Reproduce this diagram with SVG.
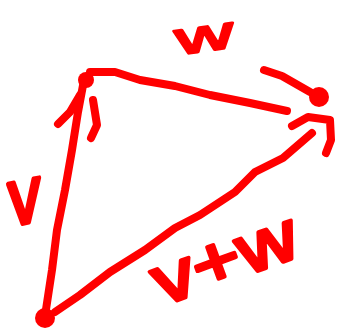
<svg xmlns="http://www.w3.org/2000/svg" width="355" height="333" viewBox="0 0 355 333">
<style>
.ln{fill:none;stroke:#ff0000;stroke-width:8;stroke-linecap:round;stroke-linejoin:round}
.lbl{font-family:"Liberation Sans",Arial,sans-serif;fill:#ff0000;stroke:#ff0000;stroke-width:2.5;stroke-linejoin:round}
</style>
<rect width="355" height="333" fill="#ffffff"/>
<g id="connectors">
<path class="ln" d="M45,316 L52,270 L57,230 L65,190 L72,150 L78,112 L84,80"/>
<path class="ln" d="M58,124 L70,112 L80,95"/>
<path class="ln" d="M93,100 L97,125 L91,138"/>
<path class="ln" d="M90,72 L115,72 L140,80 L175,86 L210,95 L250,103 L287,111"/>
<path class="ln" d="M264,70 L282,76 L310,92"/>
<path class="ln" d="M55,312 L80,295 L110,272 L145,250 L175,228 L200,215 L235,192 L255,172 L283,158 L312,133"/>
<path class="ln" d="M292,126 L308,117 L330,120 L331,140 L326,153"/>
</g>
<g id="node-origin"><circle cx="45" cy="318" r="10" fill="#ff0000"/></g>
<g id="node-v-tip"><circle cx="86" cy="80" r="8" fill="#ff0000"/></g>
<g id="node-w-tip"><circle cx="319" cy="97" r="10" fill="#ff0000"/></g>
<g id="label-w"><text class="lbl" x="176" y="51" font-size="46" textLength="58" lengthAdjust="spacingAndGlyphs" transform="rotate(-8 205 40)">w</text></g>
<g id="label-v"><text class="lbl" transform="translate(10,226) scale(1,1.9) rotate(-6)" font-size="42" textLength="32" lengthAdjust="spacingAndGlyphs">v</text></g>
<g id="label-vw"><text class="lbl" transform="translate(162,306) rotate(-20) scale(1,1.5)" font-size="46" textLength="150" lengthAdjust="spacingAndGlyphs">v+w</text></g>
</svg>
